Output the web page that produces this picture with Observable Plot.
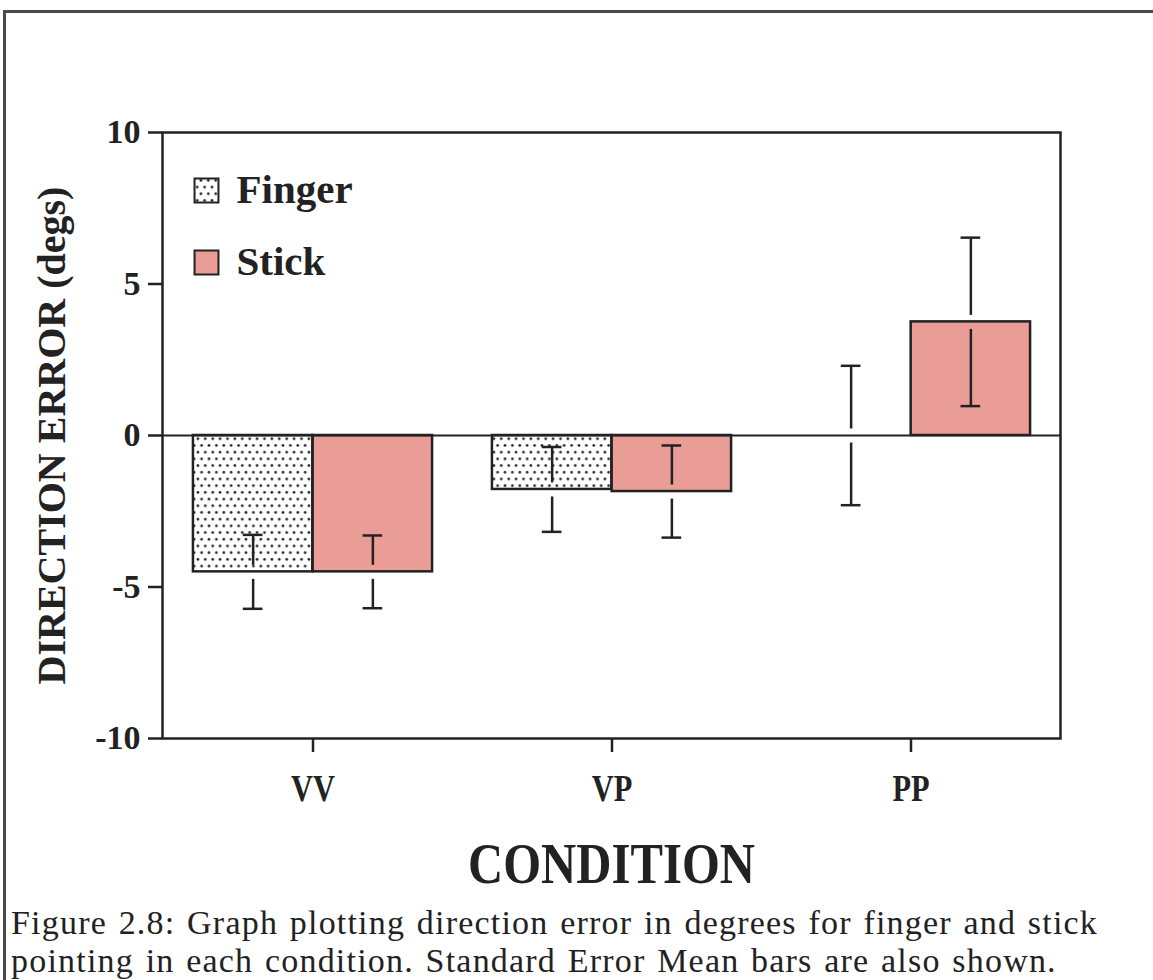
<!DOCTYPE html>
<html>
<head>
<meta charset="utf-8">
<script src="https://cdn.jsdelivr.net/npm/d3@7"></script>
<script src="https://cdn.jsdelivr.net/npm/@observablehq/plot@0.6"></script>
<style>
  html, body { margin: 0; padding: 0; background: #fff; }
  body { width: 1153px; height: 980px; position: relative; overflow: hidden; }
  #border {
    position: absolute; left: 3px; top: 10px; width: 1200px; height: 1000px;
    border-top: 3px solid #4a4a4a; border-left: 3px solid #4a4a4a;
  }
  #chart { position: absolute; left: 0; top: 0; }
  #chart svg [aria-label$="axis tick"] path,
  #chart svg .tick line { stroke-width: 2.5px; stroke: #222; }
  #chart svg [aria-label="x-axis tick label"] text,
  #chart svg [aria-label="x-axis"] .tick text { font-size: 38px; }
  #caption {
    position: absolute; left: 11px; top: 904px; width: 1140px;
    font-family: "Liberation Serif", "Times New Roman", serif;
    font-size: 34px; line-height: 38px; letter-spacing: 1.2px; word-spacing: 2px;
    color: #222; white-space: nowrap;
  }
</style>
</head>
<body>
<div id="border"></div>
<div id="chart"></div>
<div id="caption"></div>
<script>
// Mean direction error (degrees) and standard error per pointing condition
const conditions = ["VV", "VP", "PP"];
const series = ["Finger", "Stick"];
const fingerMean = [-4.5, -1.78, 0];
const fingerSE = [1.22, 1.4, 2.3];
const stickMean = [-4.5, -1.85, 3.75];
const stickSE = [1.2, 1.52, 2.78];
const yTicks = [-10, -5, 0, 5, 10];
const yLabel = "DIRECTION ERROR (degs)";
const xLabel = "CONDITION";
const captionLines = [
  "Figure 2.8: Graph plotting direction error in degrees for finger and stick",
  "pointing in each condition. Standard Error Mean bars are also shown."
];

const stickColor = "#e99d96";
const ink = "#222";

const rows = conditions.flatMap((c, i) => [
  {condition: c, series: series[0], mean: fingerMean[i], se: fingerSE[i]},
  {condition: c, series: series[1], mean: stickMean[i], se: stickSE[i]}
]);
const finger = rows.filter(d => d.series === series[0]);
const stick = rows.filter(d => d.series === series[1]);

const width = 1153, height = 900;
const marginLeft = 162, marginRight = 93, marginTop = 132, marginBottom = 162;
const bw = (width - marginLeft - marginRight) / conditions.length; // band width per condition
const capHalf = 10;   // half-width of error bar caps
const gap = 7;        // break in the error bar where it meets the bar end

// each error bar: two stems that stop short of the mean, plus a cap at each end
function errorBars(data, offset) {
  const stem = {x1: "condition", x2: "condition", y2: "mean", dx: offset, insetEnd: gap,
    headLength: 0, stroke: ink, strokeWidth: 2.5, strokeLinecap: "butt"};
  const cap = {x: "condition", dx: offset, insetLeft: bw / 2 - capHalf,
    insetRight: bw / 2 - capHalf, stroke: ink, strokeWidth: 2.5};
  return [
    Plot.arrow(data, {...stem, y1: d => d.mean + d.se}),
    Plot.arrow(data, {...stem, y1: d => d.mean - d.se}),
    Plot.tickY(data, {...cap, y: d => d.mean + d.se}),
    Plot.tickY(data, {...cap, y: d => d.mean - d.se})
  ];
}

const chart = Plot.plot({
  width, height, marginLeft, marginRight, marginTop, marginBottom,
  style: {fontFamily: "'Liberation Serif', 'Times New Roman', serif", fontWeight: "bold",
    fontSize: "34px", color: ink, background: "transparent"},
  x: {domain: conditions, padding: 0, tickSize: 14, tickPadding: 22, label: null},
  y: {domain: [-10, 10], ticks: yTicks, tickFormat: d => String(d), tickSize: 14,
    tickPadding: 8, label: null},
  marks: [
    Plot.barY(finger, {x: "condition", y: "mean", fill: "url(#dots)", stroke: ink,
      strokeWidth: 2.5, insetLeft: bw * 0.1, insetRight: bw * 0.5}),
    Plot.barY(stick, {x: "condition", y: "mean", fill: stickColor, stroke: ink,
      strokeWidth: 2.5, insetLeft: bw * 0.5, insetRight: bw * 0.1}),
    Plot.ruleY([0], {stroke: ink, strokeWidth: 2.2}),
    ...errorBars(finger, -bw * 0.2),
    ...errorBars(stick, bw * 0.2),
    Plot.frame({stroke: ink, strokeWidth: 2.5}),
    // legend
    Plot.dot([series[0]], {frameAnchor: "top-left", dx: 44, dy: 58, symbol: "square",
      r: 13.5, fill: "url(#dots)", stroke: ink, strokeWidth: 2}),
    Plot.dot([series[1]], {frameAnchor: "top-left", dx: 44, dy: 130, symbol: "square",
      r: 13.5, fill: stickColor, stroke: ink, strokeWidth: 2}),
    Plot.text([series[0]], {frameAnchor: "top-left", dx: 74, dy: 57, text: d => d,
      textAnchor: "start", lineAnchor: "middle", fontSize: 41, fontWeight: "bold", fill: ink}),
    Plot.text([series[1]], {frameAnchor: "top-left", dx: 74, dy: 129, text: d => d,
      textAnchor: "start", lineAnchor: "middle", fontSize: 41, fontWeight: "bold", fill: ink}),
    // axis titles
    Plot.text([yLabel], {frameAnchor: "left", dx: -110, rotate: -90, text: d => d,
      textAnchor: "middle", lineAnchor: "middle", fontSize: 40, fontWeight: "bold", fill: ink}),
    Plot.text([xLabel], {frameAnchor: "bottom", dy: 126, text: d => d,
      textAnchor: "middle", lineAnchor: "middle", fontSize: 58, fontWeight: "bold", fill: ink})
  ]
});

// dotted fill used by the Finger bars
const ns = "http://www.w3.org/2000/svg";
const defs = document.createElementNS(ns, "defs");
const pattern = document.createElementNS(ns, "pattern");
pattern.setAttribute("id", "dots");
pattern.setAttribute("patternUnits", "userSpaceOnUse");
pattern.setAttribute("width", "7.4");
pattern.setAttribute("height", "13.4");
const bg = document.createElementNS(ns, "rect");
bg.setAttribute("width", "7.4"); bg.setAttribute("height", "13.4"); bg.setAttribute("fill", "#fff");
pattern.appendChild(bg);
for (const [cx, cy] of [[1.8, 3.3], [5.5, 10.0]]) {
  const c = document.createElementNS(ns, "circle");
  c.setAttribute("cx", cx); c.setAttribute("cy", cy); c.setAttribute("r", "1.35");
  c.setAttribute("fill", ink);
  pattern.appendChild(c);
}
defs.appendChild(pattern);
chart.insertBefore(defs, chart.firstChild);

document.getElementById("chart").appendChild(chart);

// narrow, tall lettering for the condition labels and the axis title
function condense(el, k) {
  const len = el.getComputedTextLength();
  el.setAttribute("textLength", (len * k).toFixed(1));
  el.setAttribute("lengthAdjust", "spacingAndGlyphs");
}
chart.querySelectorAll('[aria-label="x-axis tick label"] text, [aria-label="x-axis"] .tick text')
  .forEach(el => condense(el, 0.8));
chart.querySelectorAll("text").forEach(el => { if (el.textContent === xLabel) condense(el, 0.84); });

document.getElementById("caption").innerHTML = captionLines.map(s => `<div>${s}</div>`).join("");
</script>
</body>
</html>
